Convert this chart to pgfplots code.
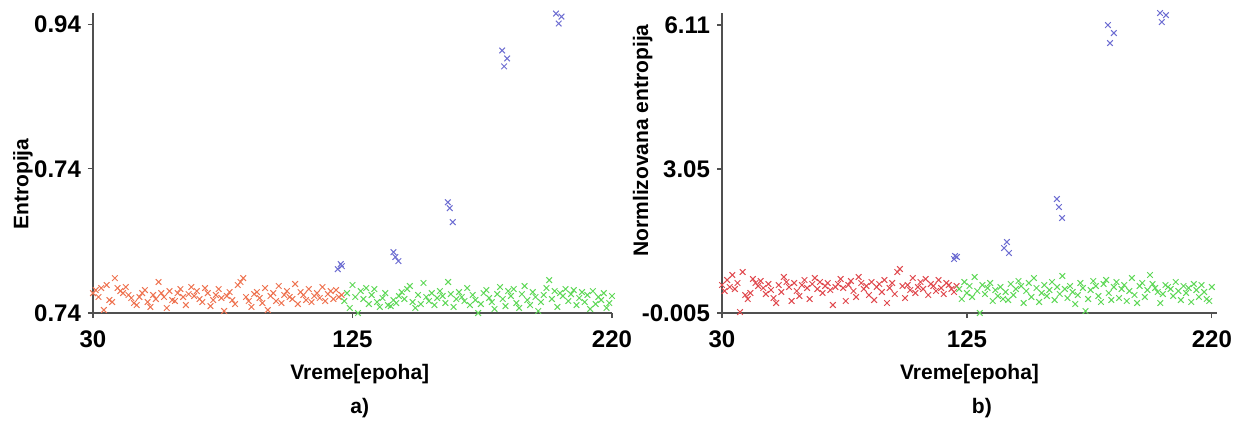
\documentclass[border=0pt]{standalone}
\usepackage{pgfplots}
\usepackage{pgfplotstable}
\pgfplotsset{compat=1.18}
\usepackage{fontspec}
\setmainfont{Liberation Sans}
\definecolor{redA}{HTML}{EE7452}
\definecolor{redB}{HTML}{E04A4F}
\definecolor{grn}{HTML}{5FD858}
\definecolor{blu}{HTML}{6E6ED2}
\definecolor{axgray}{HTML}{505050}

% ---------- panel a) ----------
\pgfplotstableread{
x y
30 0.7538
31 0.7559
32 0.7511
33 0.7573
34 0.7421
35 0.7594
36 0.7490
37 0.7476
38 0.7642
39 0.7573
40 0.7552
41 0.7538
42 0.7580
43 0.7525
44 0.7504
45 0.7469
46 0.7455
47 0.7511
48 0.7538
49 0.7559
50 0.7476
51 0.7442
52 0.7525
53 0.7497
54 0.7615
55 0.7538
56 0.7511
57 0.7435
58 0.7552
59 0.7490
60 0.7483
61 0.7538
62 0.7566
63 0.7511
64 0.7455
65 0.7531
66 0.7580
67 0.7518
68 0.7552
69 0.7497
70 0.7476
71 0.7573
72 0.7538
73 0.7448
74 0.7490
75 0.7525
76 0.7566
77 0.7504
78 0.7414
79 0.7518
80 0.7545
81 0.7490
82 0.7462
83 0.7594
84 0.7615
85 0.7642
86 0.7511
87 0.7483
88 0.7442
89 0.7531
90 0.7545
91 0.7504
92 0.7469
93 0.7573
94 0.7421
95 0.7518
96 0.7538
97 0.7483
98 0.7587
99 0.7469
100 0.7525
101 0.7552
102 0.7511
103 0.7497
104 0.7601
105 0.7462
106 0.7545
107 0.7525
108 0.7490
109 0.7566
110 0.7476
111 0.7518
112 0.7538
113 0.7504
114 0.7580
115 0.7483
116 0.7531
117 0.7552
118 0.7497
119 0.7559
120 0.7511
121 0.7525
}\redA

\pgfplotstableread{
x y
122 0.7483
123 0.7538
124 0.7435
125 0.7594
126 0.7511
127 0.7400
128 0.7552
129 0.7497
130 0.7573
131 0.7462
132 0.7525
133 0.7566
134 0.7476
135 0.7442
136 0.7504
137 0.7538
138 0.7455
139 0.7448
140 0.7490
141 0.7469
142 0.7518
143 0.7545
144 0.7497
145 0.7566
146 0.7587
147 0.7476
148 0.7435
149 0.7525
150 0.7462
151 0.7608
152 0.7511
153 0.7483
154 0.7538
155 0.7455
156 0.7504
157 0.7552
158 0.7518
159 0.7469
160 0.7615
161 0.7531
162 0.7442
163 0.7497
164 0.7545
165 0.7511
166 0.7483
167 0.7573
168 0.7455
169 0.7525
170 0.7490
171 0.7400
172 0.7462
173 0.7538
174 0.7559
175 0.7504
176 0.7476
177 0.7428
178 0.7531
179 0.7580
180 0.7497
181 0.7448
182 0.7552
183 0.7518
184 0.7566
185 0.7469
186 0.7435
187 0.7531
188 0.7587
189 0.7490
190 0.7455
191 0.7545
192 0.7511
193 0.7414
194 0.7476
195 0.7525
196 0.7573
197 0.7628
198 0.7497
199 0.7552
200 0.7442
201 0.7538
202 0.7518
203 0.7566
204 0.7483
205 0.7531
206 0.7559
207 0.7455
208 0.7504
209 0.7545
210 0.7476
211 0.7525
212 0.7428
213 0.7552
214 0.7462
215 0.7511
216 0.7490
217 0.7538
218 0.7435
219 0.7469
220 0.7518
}\grnA

\pgfplotstableread{
x y
119.6 0.7704
120.7 0.7739
121.1 0.7725
140.0 0.7822
140.7 0.7788
141.8 0.7760
159.9 0.8168
160.6 0.8127
161.7 0.8030
179.8 0.9220
181.6 0.9165
180.5 0.9110
199.5 0.9476
201.5 0.9455
200.5 0.9407
}\bluA

% ---------- panel b) ----------
\pgfplotstableread{
x y
30 0.589
31 0.462
32 0.696
33 0.547
34 0.802
35 0.505
36 0.632
37 0.016
38 0.865
39 0.377
40 0.292
41 0.420
42 0.717
43 0.632
44 0.568
45 0.674
46 0.526
47 0.398
48 0.611
49 0.483
50 0.313
51 0.207
52 0.589
53 0.441
54 0.759
55 0.653
56 0.547
57 0.250
58 0.632
59 0.462
60 0.356
61 0.589
62 0.696
63 0.526
64 0.292
65 0.611
66 0.738
67 0.505
68 0.653
69 0.420
70 0.568
71 0.632
72 0.483
73 0.165
74 0.547
75 0.611
76 0.717
77 0.526
78 0.250
79 0.589
80 0.674
81 0.462
82 0.335
83 0.759
84 0.632
85 0.505
86 0.568
87 0.377
88 0.653
89 0.271
90 0.547
91 0.611
92 0.441
93 0.696
94 0.207
95 0.526
96 0.632
97 0.398
98 0.865
99 0.929
100 0.568
101 0.313
102 0.589
103 0.483
104 0.738
105 0.420
106 0.547
107 0.653
108 0.505
109 0.717
110 0.377
111 0.611
112 0.568
113 0.462
114 0.696
115 0.526
116 0.398
117 0.632
118 0.589
119 0.505
120 0.441
121 0.568
}\redB

\pgfplotstableread{
x y
122 0.505
123 0.292
124 0.653
125 0.420
126 0.568
127 0.335
128 0.759
129 0.462
130 -0.005
131 0.589
132 0.398
133 0.526
134 0.632
135 0.250
136 0.483
137 0.356
138 0.547
139 0.292
140 0.441
141 0.271
142 0.611
143 0.377
144 0.505
145 0.674
146 0.568
147 0.207
148 0.462
149 0.632
150 0.335
151 0.738
152 0.526
153 0.229
154 0.420
155 0.589
156 0.356
157 0.483
158 0.653
159 0.271
160 0.547
161 0.398
162 0.781
163 0.505
164 0.313
165 0.568
166 0.441
167 0.186
168 0.377
169 0.632
170 0.526
171 0.037
172 0.292
173 0.483
174 0.674
175 0.568
176 0.356
177 0.229
178 0.611
179 0.696
180 0.420
181 0.271
182 0.547
183 0.653
184 0.313
185 0.505
186 0.589
187 0.250
188 0.462
189 0.738
190 0.377
191 0.207
192 0.568
193 0.632
194 0.335
195 0.483
196 0.802
197 0.611
198 0.526
199 0.441
200 0.207
201 0.398
202 0.589
203 0.547
204 0.505
205 0.356
206 0.653
207 0.462
208 0.271
209 0.568
210 0.420
211 0.526
212 0.229
213 0.611
214 0.483
215 0.335
216 0.589
217 0.441
218 0.292
219 0.250
220 0.547
}\grnB

\pgfplotstableread{
x y
120.4 1.205
121.1 1.184
120.0 1.141
140.5 1.502
139.4 1.375
141.3 1.269
159.9 2.415
160.7 2.245
161.9 2.012
179.7 6.109
182.0 5.939
180.5 5.727
199.9 6.364
202.2 6.320
200.6 6.173
}\bluB

\pgfplotsset{
  panel/.style={
    scale only axis,
    height=150pt,
    axis lines=left,
    axis line style={-, axgray, line width=0.7pt},
    tick style={axgray, line width=0.6pt},
    tick align=outside,
    major tick length=2.5pt,
    xmin=30,
    xtick={30,125,220},
    xticklabels={30,125,220},
    /pgf/number format/assume math mode=true,
    ticklabel style={font=\fontsize{12}{14}\selectfont\bfseries},
    xticklabel style={yshift=-3pt},
    label style={font=\fontsize{10.5}{12}\selectfont\bfseries},
    xlabel={Vreme[epoha]},
    clip=false,
  },
  pts/.style={only marks, mark=x, mark size=2pt, line width=0.5pt},
}

\begin{document}
\begin{tikzpicture}
\useasboundingbox (0,0) rectangle (616.5pt,210pt);

\begin{axis}[panel,
  at={(46.5pt,53.5pt)}, anchor=south west,
  width=259.5pt,
  xmax=220,
  ymin=0.74, ymax=0.948,
  ytick={0.74,0.84,0.94},
  yticklabels={0.74,0.74,0.94},
  ylabel={Entropija},
  ylabel style={at={(axis description cs:-0.135,0.43)}, anchor=center, rotate=0},
  xlabel style={at={(axis description cs:0.514,-0.205)}, anchor=center},
]
\addplot[pts, color=redA] table {\redA};
\addplot[pts, color=grn] table {\grnA};
\addplot[pts, color=blu] table {\bluA};
\node[font=\fontsize{10.5}{12}\selectfont\bfseries] at (axis description cs:0.514,-0.317) {a)};
\end{axis}

\begin{axis}[panel,
  at={(361pt,53.5pt)}, anchor=south west,
  width=247.5pt,
  xmax=222,
  ymin=-0.005, ymax=6.365,
  ytick={-0.005,3.0525,6.11},
  yticklabels={-0.005,3.05,6.11},
  ylabel={Normlizovana entropija},
  ylabel style={at={(axis description cs:-0.16,0.575)}, anchor=center, rotate=0},
  xlabel style={at={(axis description cs:0.50,-0.205)}, anchor=center},
]
\addplot[pts, color=redB] table {\redB};
\addplot[pts, color=grn] table {\grnB};
\addplot[pts, color=blu] table {\bluB};
\node[font=\fontsize{10.5}{12}\selectfont\bfseries] at (axis description cs:0.525,-0.317) {b)};
\end{axis}
\end{tikzpicture}
\end{document}
